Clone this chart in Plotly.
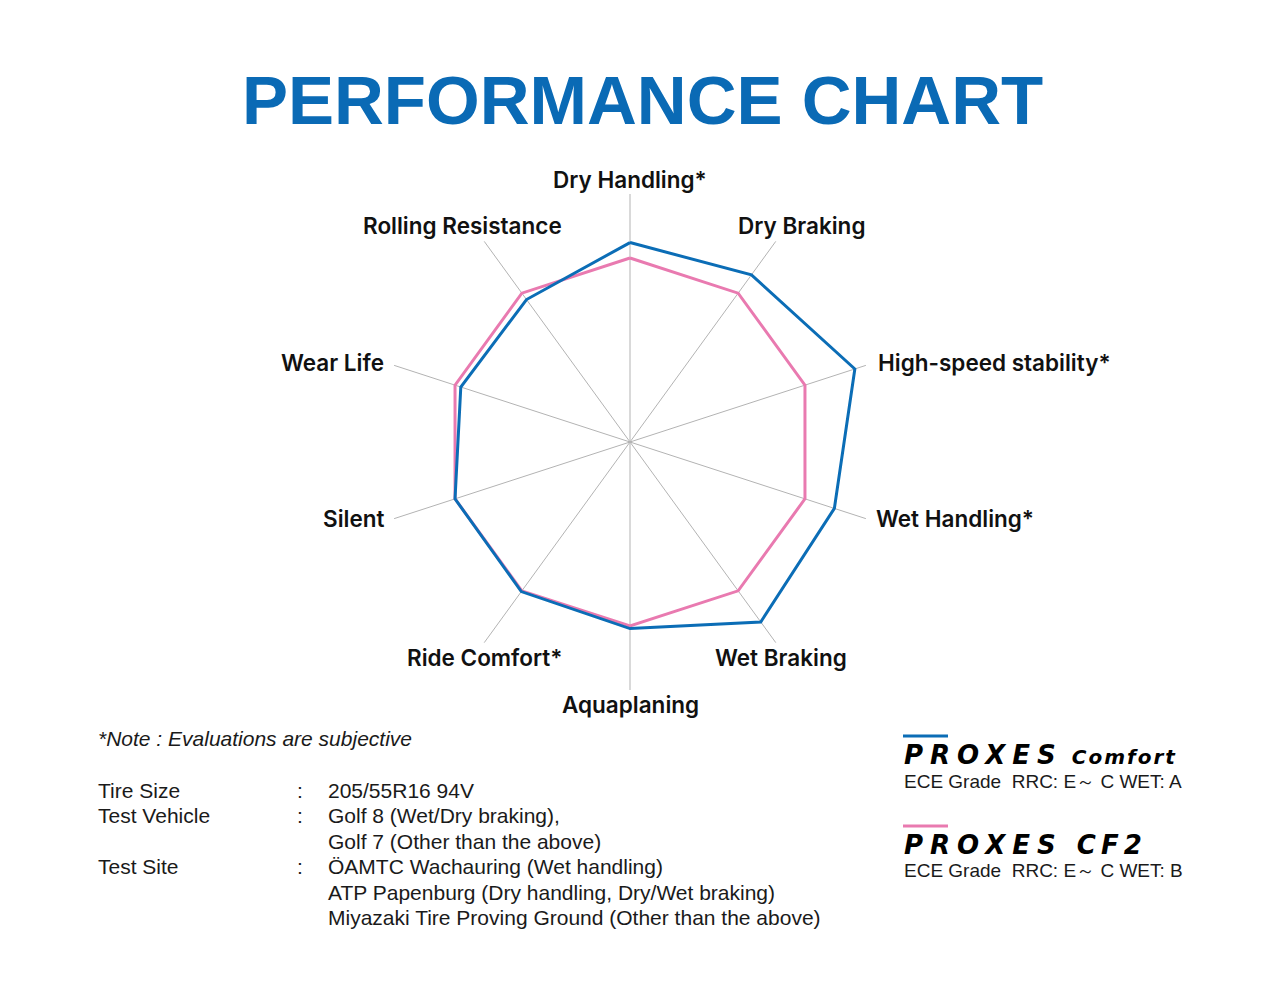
import plotly.graph_objects as go

W, H = 1280, 1005

# ---------------- data ----------------
categories = ["Dry Handling*", "Dry Braking", "High-speed stability*", "Wet Handling*",
              "Wet Braking", "Aquaplaning", "Ride Comfort*", "Silent", "Wear Life",
              "Rolling Resistance"]
proxes_comfort = [108.4, 112.3, 128.5, 116.8, 120.9, 101.4, 100.5, 100.0, 96.7, 95.7]
proxes_cf2 = [100, 100, 100, 100, 100, 100, 100, 100, 100, 100]
radial_max = 134.8

title_text = "PERFORMANCE CHART"
note_text = "*Note : Evaluations are subjective"
info_keys = ["Tire Size", "Test Vehicle", "", "Test Site", "", ""]
info_values = ["205/55R16 94V", "Golf 8 (Wet/Dry braking),", "Golf 7 (Other than the above)",
               "ÖAMTC Wachauring (Wet handling)", "ATP Papenburg (Dry handling, Dry/Wet braking)",
               "Miyazaki Tire Proving Ground (Other than the above)"]
series_names = ["PROXES Comfort", "PROXES CF2"]
series_grades = ["ECE Grade  RRC: E～ C WET: A", "ECE Grade  RRC: E～ C WET: B"]

# ---------------- styles / layout ----------------
BLUE = "#0b6db6"
PINK = "#e97ab0"
TITLE_BLUE = "#0a6ab5"
GRID = "#b3b3b3"
TXT = "#111111"

cx, cy, R = 630, 442, 248

def px(x):
    return x / W

def py(y):
    return 1 - y / H

# label anchor positions (pixels) for each category
label_pos = [(630, 179, "center"), (801, 226, "center"), (876, 362, "left"),
             (874, 518, "left"), (781, 657, "center"), (630, 704, "center"),
             (484, 657, "center"), (386, 518, "right"), (386, 362, "right"),
             (462, 226, "center")]

fig = go.Figure()
fig.add_trace(go.Scatterpolar(
    r=proxes_cf2 + proxes_cf2[:1], theta=categories + categories[:1],
    mode="lines", line=dict(color=PINK, width=3), name=series_names[1],
    showlegend=False, hoverinfo="skip"))
fig.add_trace(go.Scatterpolar(
    r=proxes_comfort + proxes_comfort[:1], theta=categories + categories[:1],
    mode="lines", line=dict(color=BLUE, width=3), name=series_names[0],
    showlegend=False, hoverinfo="skip"))

annotations = []
label_font = dict(family="Inter, Liberation Sans, Arial, sans-serif", size=22.5, color=TXT, weight=600)
for cat, (x, y, anc) in zip(categories, label_pos):
    annotations.append(dict(text=cat, x=px(x), y=py(y), xref="paper", yref="paper",
                            xanchor=anc, yanchor="middle", showarrow=False, font=label_font))

annotations.append(dict(text=title_text, x=px(642), y=py(101), xref="paper", yref="paper",
                        xanchor="center", yanchor="middle", showarrow=False,
                        font=dict(family="Liberation Sans, Arial, sans-serif", size=69,
                                  color=TITLE_BLUE, weight="bold")))

foot_font = dict(family="Liberation Sans, Arial, sans-serif", size=21, color="#1a1a1a")
annotations.append(dict(text=note_text, x=px(96), y=py(738), xref="paper", yref="paper",
                        xanchor="left", yanchor="middle", showarrow=False,
                        font=dict(foot_font, style="italic")))
row_y = [790, 815.5, 841, 866.5, 892, 917.5]
for k, v, y in zip(info_keys, info_values, row_y):
    if k:
        annotations.append(dict(text=k, x=px(96), y=py(y), xref="paper", yref="paper",
                                xanchor="left", yanchor="middle", showarrow=False, font=foot_font))
        annotations.append(dict(text=":", x=px(295), y=py(y), xref="paper", yref="paper",
                                xanchor="left", yanchor="middle", showarrow=False, font=foot_font))
    annotations.append(dict(text=v, x=px(326), y=py(y), xref="paper", yref="paper",
                            xanchor="left", yanchor="middle", showarrow=False, font=foot_font))

# legend block
logo_font = dict(family="DejaVu Sans, sans-serif", size=26, color="#000000",
                 weight="bold", style="italic")
grade_font = dict(family="Liberation Sans, Arial, sans-serif", size=19, color="#1a1a1a")
legend_rows = [(736, 755, 781, BLUE), (826, 845, 870, PINK)]
shapes = []
for name, grade, (ly, ty, gy, col) in zip(series_names, series_grades, legend_rows):
    shapes.append(dict(type="line", xref="paper", yref="paper", x0=px(903), x1=px(948),
                       y0=py(ly), y1=py(ly), line=dict(color=col, width=3)))
    brand, model = name.split(" ", 1)
    if model.isupper() or any(ch.isdigit() for ch in model):
        txt = ('<span style="letter-spacing:7px">' + brand + '</span>'
               '<span style="letter-spacing:5px"> ' + model + "</span>")
    else:
        txt = ('<span style="letter-spacing:7px">' + brand + '</span>'
               '<span style="font-size:20px;letter-spacing:2px"> ' + model + "</span>")
    annotations.append(dict(text=txt, x=px(902), y=py(ty), xref="paper", yref="paper",
                            xanchor="left", yanchor="middle", showarrow=False, font=logo_font))
    annotations.append(dict(text=grade, x=px(902), y=py(gy), xref="paper", yref="paper",
                            xanchor="left", yanchor="middle", showarrow=False, font=grade_font))

fig.update_layout(
    width=W, height=H, margin=dict(l=0, r=0, t=0, b=0),
    paper_bgcolor="white", plot_bgcolor="white",
    polar=dict(
        domain=dict(x=[(cx - R) / W, (cx + R) / W], y=[1 - (cy + R) / H, 1 - (cy - R) / H]),
        bgcolor="white",
        radialaxis=dict(range=[0, radial_max], visible=False),
        angularaxis=dict(rotation=90, direction="clockwise", showgrid=True, gridcolor=GRID,
                         gridwidth=1, showline=False, showticklabels=False, ticks="",
                         categoryorder="array", categoryarray=categories),
    ),
    annotations=annotations, shapes=shapes,
)

fig.write_html("out.html")
